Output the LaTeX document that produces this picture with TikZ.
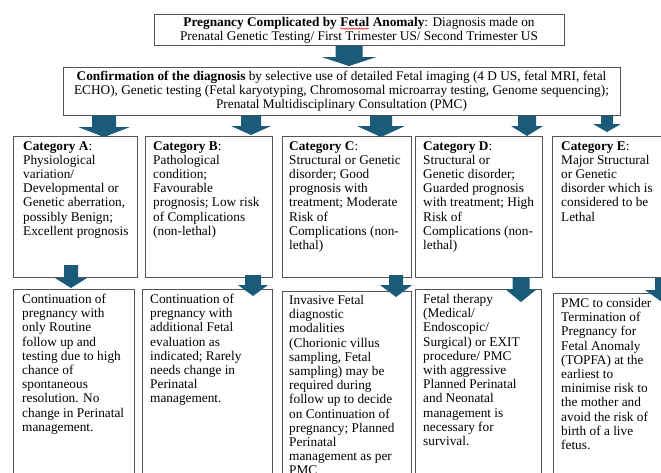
\documentclass[tikz,border=0pt]{standalone}
\usepackage{fontspec}
\setmainfont{Liberation Serif}
\usetikzlibrary{decorations.pathmorphing}
\definecolor{arrowblue}{RGB}{28,90,122}
\definecolor{boxline}{RGB}{85,85,85}
\newcommand{\blkarrow}[6]{% x, shaft top, head top, tip, shaft half, head half
  \fill[arrowblue] ({#1-#5},#2) -- ({#1+#5},#2) -- ({#1+#5},#3) -- ({#1+#6},#3) -- (#1,#4) -- ({#1-#6},#3) -- ({#1-#5},#3) -- cycle;}
\newcommand{\squigword}[1]{\tikz[baseline=(wsq.base)]{\node[inner sep=0pt,outer sep=0pt] (wsq) {#1};
  \draw[red!85!black, line width=0.45pt, decorate, decoration={snake, amplitude=0.7pt, segment length=2.6pt}] ([yshift=-2pt]wsq.base west) -- ([yshift=-2pt]wsq.base east);}}
\tikzset{
  boxst/.style={draw=boxline, line width=0.9pt, fill=white, inner sep=0pt, anchor=north west},
  txt/.style={align=left, anchor=north west, inner sep=0pt, font=\fontsize{13.3}{14.2}\selectfont},
  ctxt/.style={align=center, inner sep=0pt, font=\fontsize{13.3}{14}\selectfont},
}
\begin{document}
\begin{tikzpicture}[x=1pt,y=-1pt]
\useasboundingbox (0,0) rectangle (661,472);
\clip (0,0) rectangle (661,472);
\fill[white] (0,0) rectangle (661,472);
% top boxes
\node[boxst, minimum width=410pt, minimum height=31pt] (top) at (154,14) {};
\node[ctxt] (ttop) at (359,30.5) {\textbf{Pregnancy Complicated by \squigword{Fetal} Anomaly}: Diagnosis made on\\Prenatal Genetic Testing/ First Trimester US/ Second Trimester US};
\node[boxst, minimum width=557pt, minimum height=48pt] (conf) at (63,67) {};
\node[ctxt] (tconf) at (341.5,91) {\textbf{Confirmation of the diagnosis} by selective use of detailed Fetal imaging (4 D US, fetal MRI, fetal\\ECHO), Genetic testing (Fetal karyotyping, Chromosomal microarray testing, Genome sequencing);\\Prenatal Multidisciplinary Consultation (PMC)};
% category boxes
\node[boxst, minimum width=124pt, minimum height=141pt] (cA) at (13,136) {};
\node[boxst, minimum width=127pt, minimum height=141pt] (cB) at (145,136) {};
\node[boxst, minimum width=129pt, minimum height=141pt] (cC) at (282,136) {};
\node[boxst, minimum width=127pt, minimum height=141pt] (cD) at (415,136) {};
\node[boxst, minimum width=140pt, minimum height=141pt] (cE) at (552,136) {};
\node[txt] (tA) at (23,141) {\textbf{Category A}:\\Physiological\\variation/\\Developmental or\\Genetic aberration,\\possibly Benign;\\Excellent prognosis};
\node[txt] (tB) at (153,141) {\textbf{Category B}:\\Pathological\\condition;\\Favourable\\prognosis; Low risk\\of Complications\\(non-lethal)};
\node[txt] (tC) at (289,141) {\textbf{Category C}:\\Structural or Genetic\\disorder; Good\\prognosis with\\treatment; Moderate\\Risk of\\Complications (non-\\lethal)};
\node[txt] (tD) at (423,141) {\textbf{Category D}:\\Structural or\\Genetic disorder;\\Guarded prognosis\\with treatment; High\\Risk of\\Complications (non-\\lethal)};
\node[txt] (tE) at (561,141) {\textbf{Category E}:\\Major Structural\\or Genetic\\disorder which is\\considered to be\\Lethal};
% management boxes
\node[boxst, minimum width=121pt, minimum height=200pt] (mA) at (13,289) {};
\node[boxst, minimum width=130pt, minimum height=200pt] (mB) at (142,289) {};
\node[boxst, minimum width=129pt, minimum height=200pt] (mC) at (282,291) {};
\node[boxst, minimum width=126pt, minimum height=200pt] (mD) at (415,289) {};
\node[boxst, minimum width=140pt, minimum height=200pt] (mE) at (553,293) {};
\node[txt] (uA) at (22,294) {Continuation of\\pregnancy with\\only Routine\\follow up and\\testing due to high\\chance of\\spontaneous\\resolution. No\\change in Perinatal\\management.};
\node[txt] (uB) at (150,294) {Continuation of\\pregnancy with\\additional Fetal\\evaluation as\\indicated; Rarely\\needs change in\\Perinatal\\management.};
\node[txt] (uC) at (289,295) {Invasive Fetal\\diagnostic\\modalities\\(Chorionic villus\\sampling, Fetal\\sampling) may be\\required during\\follow up to decide\\on Continuation of\\pregnancy; Planned\\Perinatal\\management as per\\PMC};
\node[txt] (uD) at (423,294) {Fetal therapy\\(Medical/\\Endoscopic/\\Surgical) or EXIT\\procedure/ PMC\\with aggressive\\Planned Perinatal\\and Neonatal\\management is\\necessary for\\survival.};
\node[txt] (uE) at (561,298) {PMC to consider\\Termination of\\Pregnancy for\\Fetal Anomaly\\(TOPFA) at the\\earliest to\\minimise risk to\\the mother and\\avoid the risk of\\birth of a live\\fetus.};
% block arrows
\blkarrow{349}{45.5}{57}{66}{13.5}{27.5}
\blkarrow{104}{115.5}{127}{137}{12}{26}
\blkarrow{251}{115.5}{126}{135}{10}{20}
\blkarrow{381}{115.5}{126}{137}{11}{24}
\blkarrow{527}{115.5}{126}{136}{9}{16}
\blkarrow{607}{115.5}{124}{132}{6}{14}
\blkarrow{71}{265}{278}{288}{7}{16}
\blkarrow{253}{275}{285}{296}{8}{15}
\blkarrow{396}{275}{285}{297}{7}{16}
\blkarrow{521}{277}{289}{302}{8.5}{16}
\blkarrow{662}{278}{290}{302}{7}{17}
\end{tikzpicture}
\end{document}
